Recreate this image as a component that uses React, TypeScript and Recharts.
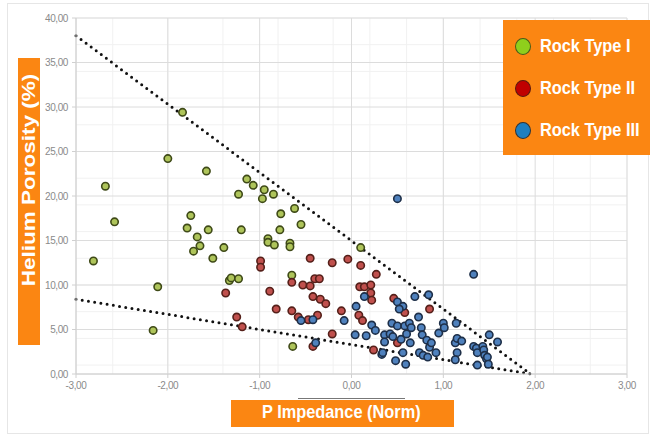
import { ScatterChart, Scatter, XAxis, YAxis, CartesianGrid, ReferenceLine } from 'recharts';

// ticks
const xTicks = [-3, -2, -1, 0, 1, 2, 3];
const yTicks = [0, 5, 10, 15, 20, 25, 30, 35, 40];

// Rock Type I (green)
const rockTypeI = [
  { x: -1.84, y: 29.4 }, { x: -2.0, y: 24.2 }, { x: -2.68, y: 21.1 }, { x: -1.58, y: 22.8 },
  { x: -1.14, y: 21.9 }, { x: -1.07, y: 21.2 }, { x: -0.95, y: 20.7 }, { x: -0.85, y: 20.2 },
  { x: -1.23, y: 20.2 }, { x: -0.97, y: 19.7 }, { x: -2.81, y: 12.7 }, { x: -2.58, y: 17.1 },
  { x: -2.11, y: 9.8 }, { x: -2.16, y: 4.9 }, { x: -1.75, y: 17.8 }, { x: -1.79, y: 16.4 },
  { x: -1.68, y: 15.4 }, { x: -1.72, y: 13.8 }, { x: -1.65, y: 14.4 }, { x: -1.56, y: 16.2 },
  { x: -1.51, y: 13.0 }, { x: -1.39, y: 14.2 }, { x: -1.33, y: 10.5 }, { x: -1.31, y: 10.8 },
  { x: -1.23, y: 10.7 }, { x: -1.2, y: 16.2 }, { x: -0.91, y: 15.2 }, { x: -0.91, y: 14.8 },
  { x: -0.84, y: 14.5 }, { x: -0.77, y: 18.0 }, { x: -0.78, y: 16.2 }, { x: -0.67, y: 14.7 },
  { x: -0.67, y: 14.3 }, { x: -0.62, y: 18.6 }, { x: -0.55, y: 16.8 }, { x: -0.65, y: 11.1 },
  { x: -0.64, y: 3.1 }, { x: 0.1, y: 14.2 },
];

// Rock Type II (red)
const rockTypeII = [
  { x: -0.99, y: 12.7 }, { x: -0.99, y: 12.0 }, { x: -1.37, y: 9.1 }, { x: -0.89, y: 9.3 },
  { x: -1.25, y: 6.4 }, { x: -1.19, y: 5.3 }, { x: -0.82, y: 7.3 }, { x: -0.65, y: 10.3 },
  { x: -0.53, y: 10.0 }, { x: -0.45, y: 13.0 }, { x: -0.45, y: 9.9 }, { x: -0.4, y: 10.7 },
  { x: -0.35, y: 10.7 }, { x: -0.42, y: 8.7 }, { x: -0.34, y: 8.4 }, { x: -0.28, y: 7.9 },
  { x: -0.65, y: 7.1 }, { x: -0.58, y: 6.4 }, { x: -0.47, y: 6.1 }, { x: -0.37, y: 6.6 },
  { x: -0.42, y: 3.1 }, { x: -0.21, y: 4.5 }, { x: -0.21, y: 12.5 }, { x: -0.04, y: 12.9 },
  { x: 0.1, y: 12.2 }, { x: 0.27, y: 11.2 }, { x: 0.09, y: 9.8 }, { x: 0.14, y: 9.8 },
  { x: 0.21, y: 10.0 }, { x: 0.21, y: 9.1 }, { x: 0.22, y: 8.3 }, { x: -0.11, y: 7.1 },
  { x: 0.08, y: 6.6 }, { x: 0.12, y: 6.0 }, { x: 0.24, y: 2.7 }, { x: 0.46, y: 8.5 },
  { x: 0.58, y: 6.9 }, { x: 0.85, y: 7.3 }, { x: 0.5, y: 3.5 },
];

// Rock Type III (blue)
const rockTypeIII = [
  { x: 0.5, y: 19.7 }, { x: 1.33, y: 11.2 }, { x: 0.05, y: 7.6 }, { x: 0.14, y: 8.7 },
  { x: -0.08, y: 6.0 }, { x: 0.04, y: 4.4 }, { x: 0.16, y: 4.3 }, { x: 0.22, y: 5.5 },
  { x: 0.26, y: 4.9 }, { x: 0.33, y: 2.2 }, { x: 0.5, y: 8.1 }, { x: 0.56, y: 7.6 },
  { x: 0.52, y: 7.3 }, { x: 0.69, y: 8.7 }, { x: 0.84, y: 8.9 }, { x: 0.73, y: 6.4 },
  { x: 0.44, y: 5.7 }, { x: 0.5, y: 5.4 }, { x: 0.58, y: 5.4 }, { x: 0.63, y: 5.7 },
  { x: 0.65, y: 5.2 }, { x: 0.36, y: 4.4 }, { x: 0.42, y: 4.5 }, { x: 0.36, y: 3.6 },
  { x: 0.45, y: 4.2 }, { x: 0.54, y: 3.9 }, { x: 0.6, y: 4.5 }, { x: 0.64, y: 3.5 },
  { x: 0.56, y: 2.4 }, { x: 0.48, y: 1.5 }, { x: 0.59, y: 1.1 }, { x: 0.74, y: 2.4 },
  { x: 0.76, y: 5.2 }, { x: 0.77, y: 4.4 }, { x: 0.82, y: 3.8 }, { x: 0.85, y: 3.0 },
  { x: 0.87, y: 3.5 }, { x: 0.78, y: 2.1 }, { x: 0.83, y: 1.9 }, { x: 0.92, y: 2.4 },
  { x: 0.95, y: 4.6 }, { x: 1.0, y: 5.7 }, { x: 1.01, y: 5.2 }, { x: 1.14, y: 5.7 },
  { x: 1.13, y: 3.5 }, { x: 1.15, y: 4.0 }, { x: 1.15, y: 2.4 }, { x: 1.13, y: 1.6 },
  { x: 1.2, y: 3.7 }, { x: 1.33, y: 3.1 }, { x: 1.36, y: 2.9 }, { x: 1.37, y: 2.4 },
  { x: 1.43, y: 3.1 }, { x: 1.44, y: 2.7 }, { x: 1.45, y: 2.1 }, { x: 1.47, y: 1.7 },
  { x: 1.48, y: 1.9 }, { x: 1.49, y: 1.1 }, { x: 1.37, y: 1.0 }, { x: 1.5, y: 4.4 },
  { x: 1.59, y: 3.6 }, { x: -0.55, y: 6.0 }, { x: -0.42, y: 6.1 }, { x: -0.39, y: 3.5 },
  { x: 0.34, y: 2.4 },
];

// dotted envelope lines
const upperLine = [{ x: -3, y: 38 }, { x: 1.95, y: 0 }];
const lowerLine = [{ x: -3, y: 8.4 }, { x: 1.95, y: 0 }];

const xMinor: number[] = [];
for (let v = -3; v <= 3.001; v += 0.2) xMinor.push(Math.round(v * 10) / 10);
const yMinor: number[] = [];
for (let v = 0; v <= 40; v += 1) yMinor.push(v);

const fmt = (v: number) => v.toFixed(2).replace('.', ',');
const sans = '"Liberation Sans", Arial, sans-serif';
const orange = '#fb8612';

const dot = (fill: string, stroke: string) => (props: any) => (
  <circle cx={props.cx} cy={props.cy} r={3.7} fill={fill} stroke={stroke} strokeWidth={1.6} />
);

const legendItems = [
  { name: 'Rock Type I', color: '#8fcf1c', border: '#4a5a1a' },
  { name: 'Rock Type II', color: '#c00000', border: '#5a1a10' },
  { name: 'Rock Type III', color: '#1f7fc0', border: '#333333' },
];

// condensed look: squeeze the text horizontally
const Narrow = ({ children, size }: { children: any, size: number }) => (
  <span style={{ display: 'inline-block', transform: 'scaleX(0.86)', transformOrigin: 'left center', fontFamily: sans, fontWeight: 'bold', fontSize: size, color: '#fff', whiteSpace: 'nowrap' }}>
    {children}
  </span>
);

const App = () => {
  return (
    <div style={{ position: 'absolute', left: 0, top: 0, width: 653, height: 436, background: '#fff' }}>
      <div style={{ position: 'absolute', left: 7, top: 3, width: 640, height: 429, border: '1px solid #e6e6e6' }} />
      <ScatterChart width={653} height={436} margin={{ top: 18, right: 26, left: 36, bottom: 42 }}>
        <CartesianGrid stroke="#f1f1f1" horizontalValues={yMinor} verticalValues={xMinor} />
        <CartesianGrid stroke="#dcdcdc" horizontalValues={yTicks} verticalValues={xTicks} />
        <XAxis
          type="number"
          dataKey="x"
          domain={[-3, 3]}
          ticks={xTicks}
          tickFormatter={fmt}
          stroke="#d0d0d0"
          tickSize={4}
          tickMargin={4}
          height={20}
          tick={{ fill: '#8a8a8a', fontSize: 10, fontFamily: sans, letterSpacing: -0.4 }}
        />
        <YAxis
          type="number"
          dataKey="y"
          domain={[0, 40]}
          ticks={yTicks}
          tickFormatter={fmt}
          stroke="#d0d0d0"
          tickSize={4}
          tickMargin={4}
          width={40}
          tick={{ fill: '#8a8a8a', fontSize: 10, fontFamily: sans, letterSpacing: -0.4 }}
        />
        <Scatter name="Rock Type I" data={rockTypeI} shape={dot('#aec45a', '#3f4a18')} isAnimationActive={false} />
        <Scatter name="Rock Type II" data={rockTypeII} shape={dot('#c0504d', '#55201a')} isAnimationActive={false} />
        <Scatter name="Rock Type III" data={rockTypeIII} shape={dot('#4f81bd', '#1e2f48')} isAnimationActive={false} />
        <ReferenceLine segment={upperLine} stroke="#111" strokeWidth={3} strokeDasharray="0 6.3" strokeLinecap="round" ifOverflow="visible" />
        <ReferenceLine segment={lowerLine} stroke="#111" strokeWidth={3} strokeDasharray="0 6.3" strokeLinecap="round" ifOverflow="visible" />
      </ScatterChart>

      {/* legend */}
      <div style={{ position: 'absolute', left: 503, top: 20, width: 147, height: 135, background: orange, boxSizing: 'border-box', paddingTop: 5, paddingLeft: 12 }}>
        {legendItems.map((it) => (
          <div key={it.name} style={{ display: 'flex', alignItems: 'center', height: 42 }}>
            <div style={{ width: 16, height: 17, borderRadius: '50%', background: it.color, border: `1.5px solid ${it.border}`, boxSizing: 'border-box', flexShrink: 0 }} />
            <div style={{ marginLeft: 9 }}><Narrow size={19}>{it.name}</Narrow></div>
          </div>
        ))}
      </div>

      {/* y axis title */}
      <div style={{ position: 'absolute', left: 18, top: 58, width: 22, height: 287, background: orange }} />
      <div
        style={{
          position: 'absolute', left: 29, top: 180, transform: 'translate(-50%, -50%) rotate(-90deg) scaleX(1.25)',
          whiteSpace: 'nowrap', color: '#fff', fontFamily: sans, fontWeight: 'bold', fontSize: 18,
        }}
      >
        Helium Porosity (%)
      </div>

      {/* x axis title */}
      <div style={{ position: 'absolute', left: 298, top: 398, width: 107, height: 1, background: '#777' }} />
      <div style={{ position: 'absolute', left: 231, top: 400, width: 223, height: 27, background: orange }} />
      <div style={{ position: 'absolute', left: 262, top: 401 }}>
        <Narrow size={19}>P Impedance (Norm)</Narrow>
      </div>
    </div>
  );
};

export default App;
